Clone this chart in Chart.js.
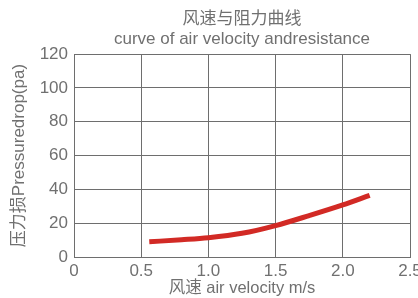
<!DOCTYPE html>
<html>
<head>
<meta charset="utf-8">
<script src="https://cdn.jsdelivr.net/npm/chart.js@4"></script>
<style>
  html, body { margin: 0; padding: 0; background: #fff; }
  #wrap { width: 418px; height: 298px; }
</style>
</head>
<body>
<div id="wrap"><canvas id="c" width="418" height="298"></canvas></div>
<script>
// 风速 (m/s) 与 压力损 (pa)
const velocity = [0.56, 0.8, 1.0, 1.25, 1.5, 1.75, 2.0, 2.2];
const pressure = [9.0, 10.2, 11.4, 14.0, 18.6, 24.5, 30.8, 36.5];
const xTicks = [0, 0.5, 1, 1.5, 2, 2.5];
const yTicks = [0, 20, 40, 60, 80, 100, 120];

const fontFam = '"Liberation Sans", "Noto Sans CJK SC", sans-serif';
const textColor = '#707070';
const gridColor = '#6e6e6e';

const points = velocity.map((v, i) => ({ x: v, y: pressure[i] }));

new Chart(document.getElementById('c'), {
    type: 'scatter',
    data: {
        datasets: [{
            data: points,
            showLine: true,
            borderColor: '#d22a25',
            borderWidth: 5,
            pointRadius: 0,
            cubicInterpolationMode: 'monotone',
            borderCapStyle: 'butt'
        }]
    },
    options: {
        responsive: false,
        animation: false,
        layout: { padding: { top: 0, right: 8, bottom: 0, left: 0 } },
        plugins: {
            legend: { display: false },
            tooltip: { enabled: false },
            title: {
                display: true,
                fullSize: false,   // centre over the plot area
                text: ['风速与阻力曲线', 'curve of air velocity andresistance'],
                color: textColor,
                font: { family: fontFam, size: 17, weight: 'normal', lineHeight: 1.15 },
                padding: { top: 10, bottom: 5 }
            }
        },
        scales: {
            x: {
                type: 'linear',
                min: 0,
                max: 2.5,
                afterBuildTicks: s => { s.ticks = xTicks.map(v => ({ value: v })); },
                afterFit: s => { s.height = 41; s.paddingRight = 0; s.paddingLeft = 0; },
                grid: { color: gridColor, lineWidth: 1, drawTicks: false },
                border: { color: gridColor },
                ticks: {
                    color: textColor,
                    padding: 4,
                    maxRotation: 0,
                    font: { family: fontFam, size: 17 }
                },
                title: {
                    display: true,
                    text: '风速 air velocity m/s',
                    color: textColor,
                    padding: { top: -3, bottom: 0 },
                    font: { family: fontFam, size: 16.5 }
                }
            },
            y: {
                min: 0,
                max: 120,
                afterBuildTicks: s => { s.ticks = yTicks.map(v => ({ value: v })); },
                afterFit: s => { s.width = 74; },
                grid: { color: gridColor, lineWidth: 1, drawTicks: false },
                border: { color: gridColor },
                ticks: {
                    color: textColor,
                    padding: 6,
                    font: { family: fontFam, size: 17 }
                },
                title: {
                    display: true,
                    text: '压力损Pressuredrop(pa)',
                    color: textColor,
                    padding: { top: 9, bottom: 0 },
                    font: { family: fontFam, size: 17 }
                }
            }
        }
    }
});
</script>
</body>
</html>
